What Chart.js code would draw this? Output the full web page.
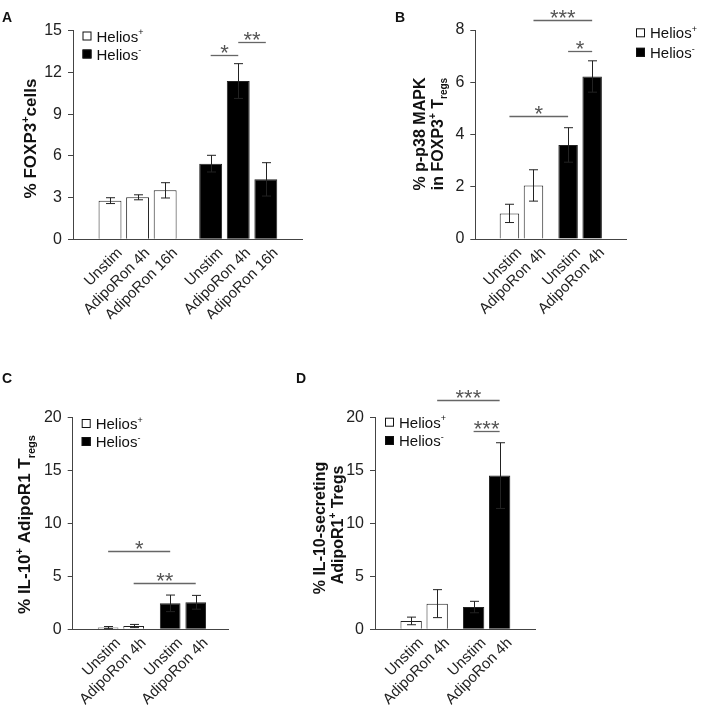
<!DOCTYPE html>
<html>
<head>
<meta charset="utf-8">
<script src="https://cdn.jsdelivr.net/npm/chart.js@4.4.1/dist/chart.umd.min.js"></script>
<style>
  html, body { margin: 0; padding: 0; background: #fff; }
  #fig { position: relative; width: 709px; height: 717px; }
  #fig canvas { position: absolute; }
</style>
</head>
<body>
<div id="fig">
  <canvas id="chartA" width="354" height="358" style="left:0;top:0"></canvas>
  <canvas id="chartB" width="355" height="358" style="left:354px;top:0"></canvas>
  <canvas id="chartC" width="280" height="359" style="left:0;top:358px"></canvas>
  <canvas id="chartD" width="429" height="359" style="left:280px;top:358px"></canvas>
</div>
<script>
// A: % FOXP3+ cells
const aCategories = ['Unstim', 'AdipoRon 4h', 'AdipoRon 16h'];
const aHeliosPos = [2.78, 3.02, 3.52];
const aHeliosPosErr = [0.21, 0.18, 0.55];
const aHeliosNeg = [5.44, 11.38, 4.31];
const aHeliosNegErr = [0.6, 1.25, 1.2];
const aYTicks = [0, 3, 6, 9, 12, 15];
// [from bar, to bar, height, stars]
const aSignif = [[3, 4, 13.25, '*'], [4, 5, 14.17, '**']];

// B: % p-p38 MAPK
const bCategories = ['Unstim', 'AdipoRon 4h'];
const bHeliosPos = [0.98, 2.05];
const bHeliosPosErr = [0.35, 0.6];
const bHeliosNeg = [3.6, 6.22];
const bHeliosNegErr = [0.66, 0.6];
const bYTicks = [0, 2, 4, 6, 8];
const bSignif = [[1, 3, 8.39, '***'], [2, 3, 7.21, '*'], [0, 2, 4.71, '*']];

// C: % IL-10+ AdipoR1 Tregs
const cCategories = ['Unstim', 'AdipoRon 4h'];
const cHeliosPos = [0.16, 0.31];
const cHeliosPosErr = [0.1, 0.15];
const cHeliosNeg = [2.45, 2.55];
const cHeliosNegErr = [0.78, 0.65];
const cYTicks = [0, 5, 10, 15, 20];
const cSignif = [[0, 2, 7.39, '*'], [1, 3, 4.4, '**']];

// D: % IL-10-secreting AdipoR1+ Tregs
const dCategories = ['Unstim', 'AdipoRon 4h'];
const dHeliosPos = [0.79, 2.42];
const dHeliosPosErr = [0.36, 1.32];
const dHeliosNeg = [2.1, 14.5];
const dHeliosNegErr = [0.54, 3.1];
const dYTicks = [0, 5, 10, 15, 20];
const dSignif = [[1, 3, 21.63, '***'], [2, 3, 18.74, '***']];

const FONT = '"Liberation Sans", Arial, Helvetica, sans-serif';
Chart.defaults.font.family = FONT;
Chart.defaults.color = '#222';

// text with superscript / subscript pieces
function drawRich(ctx, parts, x, y, size, bold, align) {
    const weight = bold ? 'bold ' : '';
    const fontFor = p => weight + (p[1] ? Math.round(size * 0.62) : size) + 'px ' + FONT;
    let total = 0;
    const widths = parts.map(p => {
        ctx.font = fontFor(p);
        const w = ctx.measureText(p[0]).width;
        total += w;
        return w;
    });
    let cx = align === 'center' ? x - total / 2 : x;
    ctx.textAlign = 'left';
    ctx.textBaseline = 'alphabetic';
    parts.forEach((p, i) => {
        ctx.font = fontFor(p);
        const dy = p[1] === 'sup' ? -size * 0.42 : (p[1] === 'sub' ? size * 0.28 : 0);
        ctx.fillText(p[0], cx, y + dy);
        cx += widths[i];
    });
}

const panelDecor = {
    id: 'panelDecor',
    afterDatasetsDraw(chart) {
        // error bars
        const ctx = chart.ctx;
        const yScale = chart.scales.y;
        ctx.save();
        ctx.strokeStyle = '#222';
        ctx.lineWidth = 1;
        chart.data.datasets.forEach((ds, di) => {
            const meta = chart.getDatasetMeta(di);
            ds.errorBars.forEach((e, i) => {
                const v = ds.data[i].y;
                const px = Math.round(meta.data[i].x) + 0.5;
                const top = yScale.getPixelForValue(v + e);
                const bot = yScale.getPixelForValue(Math.max(v - e, 0));
                ctx.beginPath();
                ctx.moveTo(px, top); ctx.lineTo(px, bot);
                ctx.moveTo(px - 4.5, top); ctx.lineTo(px + 4.5, top);
                ctx.moveTo(px - 4.5, bot); ctx.lineTo(px + 4.5, bot);
                ctx.stroke();
            });
        });
        ctx.restore();
    },
    afterDraw(chart, args, opts) {
        const ctx = chart.ctx;
        const xScale = chart.scales.x;
        const yScale = chart.scales.y;
        ctx.save();

        // significance bars
        opts.signif.forEach(([i, j, v, stars]) => {
            const x1 = xScale.getPixelForValue(opts.positions[i]);
            const x2 = xScale.getPixelForValue(opts.positions[j]);
            const yy = Math.round(yScale.getPixelForValue(v)) + 0.5;
            ctx.strokeStyle = '#666';
            ctx.lineWidth = 1.3;
            ctx.beginPath();
            ctx.moveTo(x1, yy); ctx.lineTo(x2, yy);
            ctx.stroke();
            ctx.fillStyle = '#555';
            ctx.font = '22px ' + FONT;
            ctx.textAlign = 'center';
            ctx.textBaseline = 'alphabetic';
            ctx.fillText(stars, (x1 + x2) / 2, yy + 4);
        });

        // legend
        const lg = opts.legend;
        [['Helios', '+', '#fff'], ['Helios', '-', '#000']].forEach((row, k) => {
            const top = lg.y + k * lg.dy;
            ctx.fillStyle = row[2];
            ctx.fillRect(lg.x, top, 9, 9);
            ctx.strokeStyle = '#111';
            ctx.lineWidth = 1;
            ctx.strokeRect(lg.x + 0.5, top + 0.5, 8, 8);
            ctx.fillStyle = '#111';
            drawRich(ctx, [[row[0]], [row[1], 'sup']], lg.x + 14, top + 10, 15, false, 'left');
        });

        // y axis titles (rotated)
        ctx.fillStyle = '#111';
        opts.titles.forEach(t => {
            ctx.save();
            ctx.translate(t.x, t.y);
            ctx.rotate(-Math.PI / 2);
            drawRich(ctx, t.parts, 0, 0, t.size, true, 'center');
            ctx.restore();
        });

        // panel letter
        ctx.font = 'bold 14px ' + FONT;
        ctx.textAlign = 'left';
        ctx.textBaseline = 'alphabetic';
        ctx.fillText(opts.letter.text, opts.letter.x, opts.letter.y);
        ctx.restore();
    }
};

function makePanel(id, p) {
    const n = p.categories.length;
    const posA = p.categories.map((c, i) => i);
    const posB = p.categories.map((c, i) => n + p.groupGap + i);
    const positions = posA.concat(posB);
    const labels = p.categories.concat(p.categories);
    const canvas = document.getElementById(id);
    const AXIS_W = 40, AXIS_H = 80;

    const barStyle = {
        borderColor: '#222',
        borderWidth: 1,
        grouped: false,
        categoryPercentage: 1,
        barPercentage: p.barRatio
    };

    new Chart(canvas.getContext('2d'), {
        type: 'bar',
        data: {
            datasets: [
                Object.assign({
                    label: 'Helios+',
                    data: p.heliosPos.map((v, i) => ({x: posA[i], y: v})),
                    errorBars: p.heliosPosErr,
                    backgroundColor: '#fff'
                }, barStyle),
                Object.assign({
                    label: 'Helios-',
                    data: p.heliosNeg.map((v, i) => ({x: posB[i], y: v})),
                    errorBars: p.heliosNegErr,
                    backgroundColor: '#000'
                }, barStyle)
            ]
        },
        options: {
            responsive: false,
            animation: false,
            layout: {
                padding: {
                    left: p.area.left - AXIS_W,
                    top: p.area.top,
                    right: canvas.width - p.area.right,
                    bottom: canvas.height - p.area.bottom - AXIS_H
                }
            },
            scales: {
                x: {
                    type: 'linear',
                    min: -p.padUnits[0],
                    max: positions[positions.length - 1] + p.padUnits[1],
                    afterBuildTicks: s => { s.ticks = positions.map(v => ({value: v})); },
                    afterFit: s => { s.height = AXIS_H; },
                    grid: {display: false, drawTicks: false},
                    border: {display: true, color: '#444', width: 1},
                    ticks: {
                        autoSkip: false,
                        minRotation: 45,
                        maxRotation: 45,
                        padding: 5,
                        labelOffset: 10,
                        color: '#222',
                        font: {size: 15},
                        callback: (v, i) => labels[i]
                    }
                },
                y: {
                    min: 0,
                    max: p.yTicks[p.yTicks.length - 1],
                    afterBuildTicks: s => { s.ticks = p.yTicks.map(v => ({value: v})); },
                    afterFit: s => { s.width = AXIS_W; },
                    grid: {drawOnChartArea: false, drawTicks: true, tickLength: 5, color: '#444'},
                    border: {color: '#444', width: 1},
                    ticks: {padding: 6, color: '#222', font: {size: 16}, callback: v => String(v)}
                }
            },
            plugins: {
                legend: {display: false},
                tooltip: {enabled: false},
                panelDecor: {
                    positions: positions,
                    signif: p.signif,
                    legend: p.legend,
                    titles: p.titles,
                    letter: p.letter
                }
            }
        },
        plugins: [panelDecor]
    });
}

makePanel('chartA', {
    categories: aCategories, heliosPos: aHeliosPos, heliosPosErr: aHeliosPosErr,
    heliosNeg: aHeliosNeg, heliosNegErr: aHeliosNegErr, yTicks: aYTicks, signif: aSignif,
    area: {left: 73, top: 30.7, right: 302, bottom: 239.3},
    groupGap: 0.65, padUnits: [0.65, 0.62], barRatio: 0.83,
    legend: {x: 82.5, y: 31.5, dy: 18},
    titles: [{parts: [['% FOXP3'], ['+', 'sup'], ['cells']], x: 36, y: 138.5, size: 17}],
    letter: {text: 'A', x: 2, y: 22}
});

makePanel('chartB', {
    categories: bCategories, heliosPos: bHeliosPos, heliosPosErr: bHeliosPosErr,
    heliosNeg: bHeliosNeg, heliosNegErr: bHeliosNegErr, yTicks: bYTicks, signif: bSignif,
    area: {left: 121.3, top: 30, right: 272, bottom: 239},
    groupGap: 0.44, padUnits: [0.636, 0.624], barRatio: 0.81,
    legend: {x: 282, y: 28.3, dy: 19.5},
    titles: [
        {parts: [['% p-p38 MAPK']], x: 71, y: 134, size: 16},
        {parts: [['in FOXP3'], ['+', 'sup'], [' T'], ['regs', 'sub']], x: 89, y: 134, size: 16}
    ],
    letter: {text: 'B', x: 41, y: 22}
});

makePanel('chartC', {
    categories: cCategories, heliosPos: cHeliosPos, heliosPosErr: cHeliosPosErr,
    heliosNeg: cHeliosNeg, heliosNegErr: cHeliosNegErr, yTicks: cYTicks, signif: cSignif,
    area: {left: 72.7, top: 59.3, right: 228.3, bottom: 271.3},
    groupGap: 0.43, padUnits: [0.626, 0.514], barRatio: 0.81,
    legend: {x: 81.7, y: 61, dy: 18},
    titles: [{parts: [['% IL-10'], ['+', 'sup'], [' AdipoR1 T'], ['regs', 'sub']], x: 30, y: 166.5, size: 17}],
    letter: {text: 'C', x: 2, y: 25}
});

makePanel('chartD', {
    categories: dCategories, heliosPos: dHeliosPos, heliosPosErr: dHeliosPosErr,
    heliosNeg: dHeliosNeg, heliosNegErr: dHeliosNegErr, yTicks: dYTicks, signif: dSignif,
    area: {left: 95, top: 59.3, right: 255, bottom: 271.3},
    groupGap: 0.40, padUnits: [0.62, 0.59], barRatio: 0.82,
    legend: {x: 105, y: 59.7, dy: 18.3},
    titles: [
        {parts: [['% IL-10-secreting']], x: 45, y: 170, size: 16},
        {parts: [['AdipoR1'], ['+', 'sup'], [' Tregs']], x: 62.7, y: 167, size: 16}
    ],
    letter: {text: 'D', x: 16, y: 25}
});
</script>
</body>
</html>
